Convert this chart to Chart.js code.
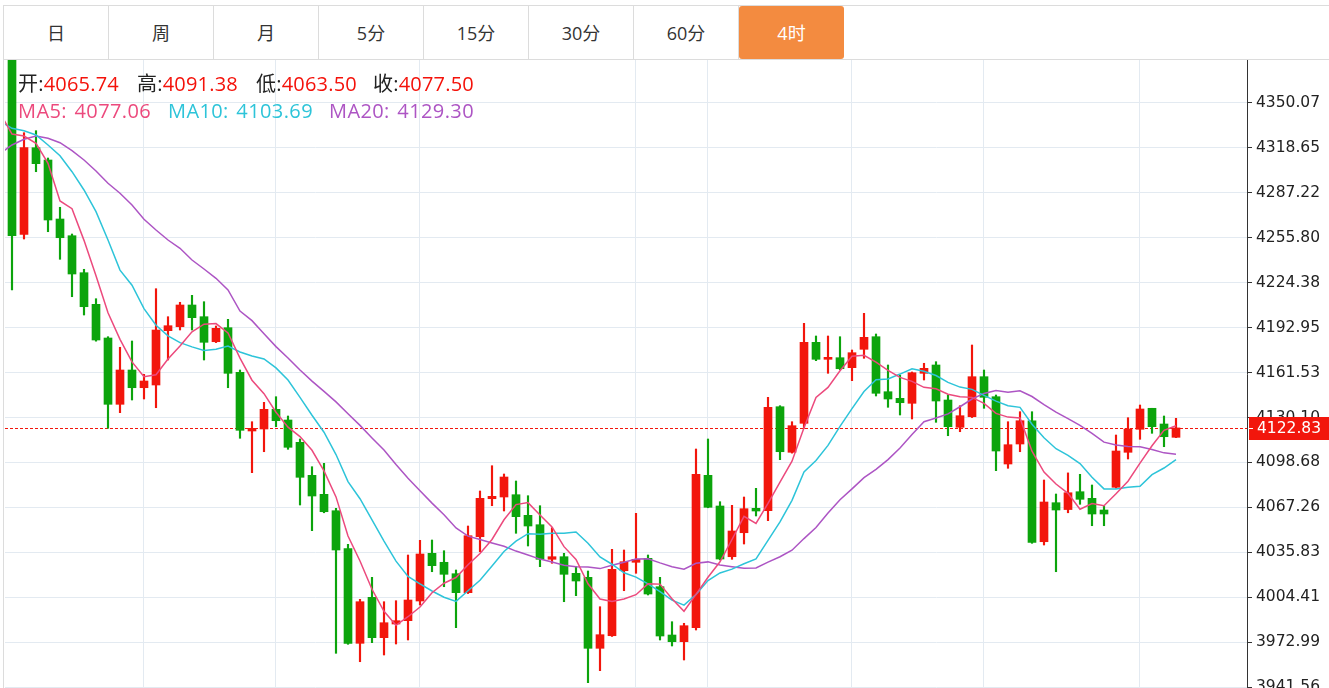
<!DOCTYPE html>
<html>
<head>
<meta charset="utf-8">
<script src="https://cdn.jsdelivr.net/npm/chart.js@4.4.1/dist/chart.umd.min.js"></script>
<style>
  html, body { margin: 0; padding: 0; background: #fff; overflow: hidden; }
  body { width: 1329px; height: 688px; position: relative; font-family: "Open Sans", "Noto Sans CJK SC", sans-serif; }
  .tabs { position: absolute; left: 3px; top: 5px; width: 1325px; height: 53px;
          border-top: 1px solid #dcdcdc; border-bottom: 1px solid #dcdcdc; border-left: 1px solid #dcdcdc; display: flex; }
  .tab { width: 104px; border-right: 1px solid #dcdcdc; text-align: center; line-height: 55px;
         font-size: 18px; color: #333; }
  .tab.active { background: #f38b40; color: #fff; border-right: none; width: 105px; border-radius: 3px; }
  .leftline { position: absolute; left: 3px; top: 59px; width: 1px; height: 629px; background: #dcdcdc; }
  .wrap { position: absolute; left: 0; top: 60px; width: 1329px; height: 628px; }
  .info { position: absolute; font-size: 20px; line-height: 24px; white-space: nowrap; letter-spacing: 0.2px; }
  .ma { letter-spacing: 0.4px; word-spacing: 2px; }
  .k { color: #222; }
  .r { color: #f4120a; }
</style>
</head>
<body>
<div class="tabs">
  <div class="tab">日</div><div class="tab">周</div><div class="tab">月</div><div class="tab">5分</div>
  <div class="tab">15分</div><div class="tab">30分</div><div class="tab">60分</div><div class="tab active">4时</div>
</div>
<div class="leftline"></div>
<div class="wrap"><canvas id="kline"></canvas></div>

<div class="info" style="left:18px;top:72px"><span class="k">开:</span><span class="r">4065.74</span></div>
<div class="info" style="left:137px;top:72px"><span class="k">高:</span><span class="r">4091.38</span></div>
<div class="info" style="left:256px;top:72px"><span class="k">低:</span><span class="r">4063.50</span></div>
<div class="info" style="left:373px;top:72px"><span class="k">收:</span><span class="r">4077.50</span></div>
<div class="info ma" style="left:18px;top:99px;color:#ec4a7d">MA5: 4077.06</div>
<div class="info ma" style="left:168px;top:99px;color:#2dc4d9">MA10: 4103.69</div>
<div class="info ma" style="left:329px;top:99px;color:#ad55c4">MA20: 4129.30</div>

<script>
// 4h candles, index 0..97 (left to right)
const opens = [4392.00, 4258.24, 4318.81, 4310.20, 4268.94, 4257.26, 4231.39, 4209.29, 4185.72, 4139.35,
  4163.34, 4150.96, 4152.85, 4190.83, 4193.62, 4208.80, 4200.62, 4183.13, 4192.93, 4161.73,
  4120.68, 4122.08, 4135.85, 4128.37, 4112.78, 4089.70, 4076.41, 4064.94, 4038.37, 3972.20,
  4004.38, 3976.13, 3985.71, 3988.02, 4001.79, 4035.15, 4028.86, 4020.88, 4007.60, 4046.76,
  4073.33, 4074.52, 4076.13, 4061.72, 4055.15, 4030.95, 4032.77, 4021.16, 4018.36, 3968.71,
  3977.52, 4022.98, 4028.86, 4031.65, 4011.79, 3978.01, 3973.33, 3983.12, 4089.70, 4068.23,
  4032.77, 4049.55, 4066.62, 4064.94, 4137.67, 4105.79, 4126.06, 4182.71, 4170.82, 4171.94,
  4164.95, 4177.82, 4186.63, 4148.16, 4143.55, 4140.05, 4161.03, 4166.84, 4142.36, 4123.27,
  4130.68, 4158.66, 4144.67, 4097.60, 4111.59, 4127.88, 4043.26, 4070.54, 4065.74, 4078.23,
  4073.61, 4065.43, 4081.31, 4105.79, 4121.87, 4136.56, 4125.58, 4116.27];
const highs = [4402.00, 4329.30, 4330.70, 4311.60, 4277.13, 4258.45, 4233.77, 4213.20, 4186.63, 4179.22,
  4183.62, 4160.33, 4220.20, 4200.62, 4210.69, 4215.58, 4211.11, 4194.11, 4198.80, 4163.34,
  4127.18, 4140.75, 4144.67, 4131.17, 4115.09, 4095.71, 4098.09, 4066.62, 4041.44, 4002.98,
  4018.36, 4001.30, 4002.00, 4033.96, 4044.24, 4044.45, 4036.97, 4023.47, 4054.24, 4078.72,
  4096.41, 4090.61, 4085.71, 4075.43, 4068.44, 4053.05, 4035.15, 4025.78, 4022.77, 3997.80,
  4037.95, 4037.46, 4063.12, 4033.96, 4018.36, 3987.32, 3986.20, 4108.09, 4115.09, 4071.24,
  4068.72, 4074.52, 4080.61, 4144.25, 4138.37, 4127.18, 4196.00, 4187.12, 4187.12, 4186.63,
  4177.33, 4202.99, 4188.52, 4166.84, 4159.84, 4161.96, 4168.03, 4169.15, 4145.86, 4138.37,
  4180.82, 4163.34, 4145.86, 4127.18, 4134.18, 4134.18, 4086.41, 4076.62, 4091.38, 4090.40,
  4082.92, 4068.23, 4117.88, 4129.98, 4138.86, 4136.56, 4131.17, 4129.56];
const lows = [4219.29, 4254.96, 4302.02, 4260.06, 4240.76, 4214.60, 4201.80, 4183.50, 4122.57, 4133.48,
  4142.36, 4143.06, 4136.97, 4170.33, 4191.31, 4191.31, 4170.33, 4182.50, 4150.96, 4115.58,
  4091.52, 4106.20, 4123.69, 4107.88, 4068.93, 4050.96, 4063.50, 3965.21, 3971.50, 3959.34,
  3972.63, 3964.03, 3971.72, 3974.52, 3998.99, 4022.28, 4011.79, 3983.12, 4007.00, 4036.27,
  4068.44, 4064.73, 4049.14, 4040.26, 4025.78, 4028.16, 4001.30, 4005.50, 3944.66, 3953.05,
  3977.00, 4008.99, 4021.16, 4006.00, 3974.52, 3970.32, 3960.53, 3981.51, 4067.00, 4030.50,
  4030.95, 4041.65, 4061.24, 4057.95, 4100.61, 4105.20, 4122.57, 4169.85, 4161.03, 4163.60,
  4155.86, 4171.52, 4145.16, 4137.25, 4131.87, 4129.07, 4156.35, 4126.76, 4117.39, 4120.19,
  4130.10, 4136.55, 4092.92, 4094.60, 4106.20, 4042.14, 4040.95, 4022.28, 4063.50, 4069.42,
  4054.45, 4054.45, 4080.70, 4101.10, 4114.88, 4119.07, 4109.70, 4116.00];
const closes = [4257.26, 4318.81, 4307.62, 4268.24, 4255.86, 4230.48, 4207.61, 4184.32, 4139.35, 4163.34,
  4150.96, 4155.65, 4191.31, 4194.32, 4208.80, 4199.92, 4182.71, 4192.50, 4161.03, 4121.17,
  4122.57, 4135.85, 4127.88, 4109.28, 4088.30, 4075.22, 4064.24, 4037.46, 3972.20, 4001.30,
  3976.13, 3986.61, 3988.02, 4002.49, 4034.66, 4026.48, 4020.46, 4007.60, 4047.46, 4073.61,
  4075.01, 4088.51, 4060.75, 4054.24, 4030.95, 4032.77, 4020.46, 4015.78, 3968.71, 3978.23,
  4023.96, 4029.27, 4030.95, 4006.69, 3977.31, 3973.33, 3984.52, 4090.40, 4067.32, 4031.16,
  4050.75, 4066.34, 4064.73, 4137.25, 4106.20, 4124.39, 4182.71, 4170.82, 4172.22, 4164.25,
  4175.44, 4186.21, 4147.05, 4143.06, 4140.47, 4161.45, 4164.53, 4141.66, 4123.69, 4131.38,
  4158.66, 4144.25, 4106.69, 4111.10, 4127.88, 4042.84, 4071.03, 4065.43, 4077.50, 4072.91,
  4062.63, 4062.63, 4106.69, 4122.08, 4136.07, 4123.69, 4116.69, 4122.83];

// moving averages start one candle earlier (index -1, just off the left edge)
const MA_START = -1;
const ma5 = [4343.07, 4328.39, 4327.00, 4321.88, 4307.90, 4281.6, 4276.2, 4254.0, 4229.2, 4203.4, 4184.8,
  4169.0, 4158.6, 4160.0, 4171.0, 4180.2, 4190.0, 4195.4, 4195.8, 4189.2, 4171.6,
  4156.2, 4146.8, 4133.8, 4123.4, 4116.8, 4107.2, 4092.8, 4074.6, 4047.2, 4029.8,
  4010.0, 3994.6, 3984.8, 3990.8, 3997.6, 4007.6, 4014.2, 4018.2, 4027.2, 4035.0,
  4044.8, 4058.6, 4069.2, 4070.6, 4062.0, 4053.6, 4039.8, 4030.8, 4013.8, 4003.2,
  4001.4, 4003.2, 4006.2, 4013.8, 4013.6, 4003.4, 3994.6, 4006.4, 4018.4, 4029.2,
  4044.8, 4061.0, 4056.0, 4070.0, 4085.0, 4099.6, 4123.0, 4144.2, 4151.2, 4162.8,
  4173.0, 4173.6, 4168.8, 4163.0, 4158.2, 4155.4, 4151.2, 4150.2, 4146.4, 4144.6,
  4144.2, 4140.0, 4133.0, 4130.4, 4129.8, 4106.6, 4092.0, 4083.6, 4077.06, 4066.0,
  4070.0, 4068.4, 4076.8, 4085.6, 4098.2, 4110.4, 4121.2, 4124.4];
const ma10 = [4337.5, 4332.37, 4330.69, 4327.69, 4320.71, 4313.21, 4302.02, 4289.22, 4274.05, 4254.26, 4233.2,
  4222.6, 4206.3, 4194.6, 4187.2, 4182.5, 4179.5, 4177.0, 4177.9, 4180.1, 4175.9,
  4173.1, 4171.1, 4164.8, 4156.3, 4144.2, 4131.7, 4119.8, 4104.2, 4085.3, 4073.3,
  4058.6, 4043.7, 4029.7, 4019.0, 4013.7, 4008.8, 4004.4, 4001.5, 4009.0, 4016.3,
  4026.2, 4036.4, 4043.7, 4048.9, 4048.5, 4049.2, 4049.2, 4050.0, 4042.2, 4032.6,
  4027.5, 4021.5, 4018.5, 4013.8, 4008.4, 4002.4, 3998.9, 4006.3, 4016.1, 4021.4,
  4024.1, 4027.8, 4031.2, 4044.2, 4057.1, 4072.2, 4092.0, 4100.1, 4110.6, 4123.9,
  4136.3, 4148.3, 4156.5, 4157.1, 4160.5, 4164.2, 4162.4, 4159.5, 4154.7, 4151.4,
  4149.8, 4145.6, 4141.6, 4138.4, 4137.2, 4125.4, 4116.0, 4108.3, 4103.69, 4097.9,
  4088.3, 4080.2, 4080.2, 4081.3, 4082.1, 4090.2, 4094.8, 4100.6];
const ma20 = [4314.75, 4320.69, 4324.68, 4327.03, 4325.38, 4322.30, 4316.71, 4310.20, 4302.51, 4293.91, 4286.92,
  4278.73, 4268.73, 4261.25, 4254.26, 4248.45, 4240.27, 4233.97, 4227.47, 4219.29, 4204.55,
  4197.85, 4188.7, 4179.7, 4171.75, 4163.35, 4155.6, 4148.4, 4141.05, 4132.7, 4124.6,
  4115.85, 4107.4, 4097.25, 4087.65, 4078.95, 4070.25, 4062.1, 4052.85, 4047.15, 4044.8,
  4042.4, 4040.05, 4036.7, 4033.95, 4031.1, 4029.0, 4026.8, 4025.75, 4025.6, 4024.45,
  4026.85, 4028.95, 4031.1, 4031.35, 4028.45, 4025.8, 4024.05, 4028.15, 4029.15, 4027.0,
  4025.8, 4024.65, 4024.85, 4029.0, 4032.75, 4037.3, 4045.45, 4053.2, 4063.35, 4072.65,
  4080.2, 4088.05, 4093.85, 4100.65, 4108.8, 4118.2, 4127.2, 4129.8, 4132.65, 4137.65,
  4143.05, 4146.95, 4149.05, 4147.75, 4148.85, 4144.8, 4139.2, 4133.9, 4129.3, 4124.65,
  4119.05, 4112.9, 4110.9, 4109.85, 4109.65, 4107.8, 4105.4, 4104.45];

// price axis labels and candles where the day separators fall
const yTicks = [4350.07, 4318.65, 4287.22, 4255.80, 4224.38, 4192.95, 4161.53, 4130.10,
  4098.68, 4067.26, 4035.83, 4004.41, 3972.99, 3941.56];
const dayStarts = [11, 22, 34, 52, 58, 70, 81, 94];

const RED = '#f2160c';
const GREEN = '#0ca40c';
const GRID = '#e3eaf1';

const colors = closes.map((c, i) => (c >= opens[i] ? RED : GREEN));
const bodies = opens.map((o, i) => ({ x: i, y: [o, closes[i]] }));
const wicks = lows.map((l, i) => ({ x: i, y: [l, highs[i]] }));
const maLine = (arr) => arr.map((v, k) => ({ x: k + MA_START, y: v }));

const lastPrice = {
  id: 'lastPrice',
  beforeDatasetsDraw(chart) {
    const { ctx, chartArea, scales } = chart;
    const y = Math.round(scales.y.getPixelForValue(closes[closes.length - 1])) + 0.5;
    ctx.save();
    ctx.strokeStyle = RED;
    ctx.lineWidth = 1;
    ctx.setLineDash([3, 2]);
    ctx.beginPath();
    ctx.moveTo(chartArea.left, y);
    ctx.lineTo(chartArea.right, y);
    ctx.stroke();
    ctx.restore();
  },
  afterDraw(chart) {
    const { ctx, chartArea, scales } = chart;
    const price = closes[closes.length - 1];
    const y = Math.round(scales.y.getPixelForValue(price));
    const x0 = chartArea.right + 2;
    ctx.save();
    ctx.fillStyle = RED;
    ctx.fillRect(x0, y - 11, chart.width - x0, 23);
    ctx.strokeStyle = '#fff';
    ctx.lineWidth = 1;
    ctx.beginPath();
    ctx.moveTo(chartArea.right + 1, y + 0.5);
    ctx.lineTo(chartArea.right + 6, y + 0.5);
    ctx.stroke();
    ctx.fillStyle = '#fff';
    ctx.font = '15.5px "DejaVu Sans"';
    ctx.textBaseline = 'middle';
    ctx.fillText(price.toFixed(2), chartArea.right + 10, y + 1);
    ctx.restore();
  }
};

new Chart(document.getElementById('kline'), {
  type: 'bar',
  data: {
    datasets: [
      { type: 'line', data: maLine(ma5), borderColor: '#ec4a7d', borderWidth: 1.5, pointRadius: 0, tension: 0, order: 0, clip: 0 },
      { type: 'line', data: maLine(ma10), borderColor: '#2dc4d9', borderWidth: 1.5, pointRadius: 0, tension: 0, order: 0, clip: 0 },
      { type: 'line', data: maLine(ma20), borderColor: '#ad55c4', borderWidth: 1.5, pointRadius: 0, tension: 0, order: 0, clip: 0 },
      { data: bodies, backgroundColor: colors, barThickness: 8, minBarLength: 1, grouped: false, order: 1, clip: 0 },
      { data: wicks, backgroundColor: colors, barThickness: 1.5, grouped: false, order: 2, clip: 0 }
    ]
  },
  options: {
    responsive: true,
    maintainAspectRatio: false,
    animation: false,
    events: [],
    layout: { padding: { left: 5, right: 0, top: 0, bottom: 0 } },
    plugins: { legend: { display: false }, tooltip: { enabled: false } },
    scales: {
      x: {
        type: 'linear',
        min: -0.5833,
        max: 102.9167,
        offset: false,
        grid: { color: GRID, lineWidth: 1, drawTicks: false, offset: false },
        border: { display: false },
        ticks: { display: false },
        afterBuildTicks: (scale) => { scale.ticks = dayStarts.map((v) => ({ value: v })); },
        afterFit: (scale) => { scale.height = 0; }
      },
      y: {
        position: 'right',
        min: 3940.95,
        max: 4380.14,
        grid: { color: GRID, lineWidth: 1, tickLength: 5, tickColor: '#333' },
        border: { display: true, color: '#333', width: 1 },
        ticks: {
          padding: 4,
          color: '#222',
          font: { family: 'DejaVu Sans', size: 15.5 },
          callback: (v) => Number(v).toFixed(2)
        },
        afterBuildTicks: (scale) => { scale.ticks = yTicks.map((v) => ({ value: v })); },
        afterFit: (scale) => { scale.width = 82; scale.paddingTop = 0; scale.paddingBottom = 0; }
      }
    }
  },
  plugins: [lastPrice]
});
</script>
</body>
</html>
